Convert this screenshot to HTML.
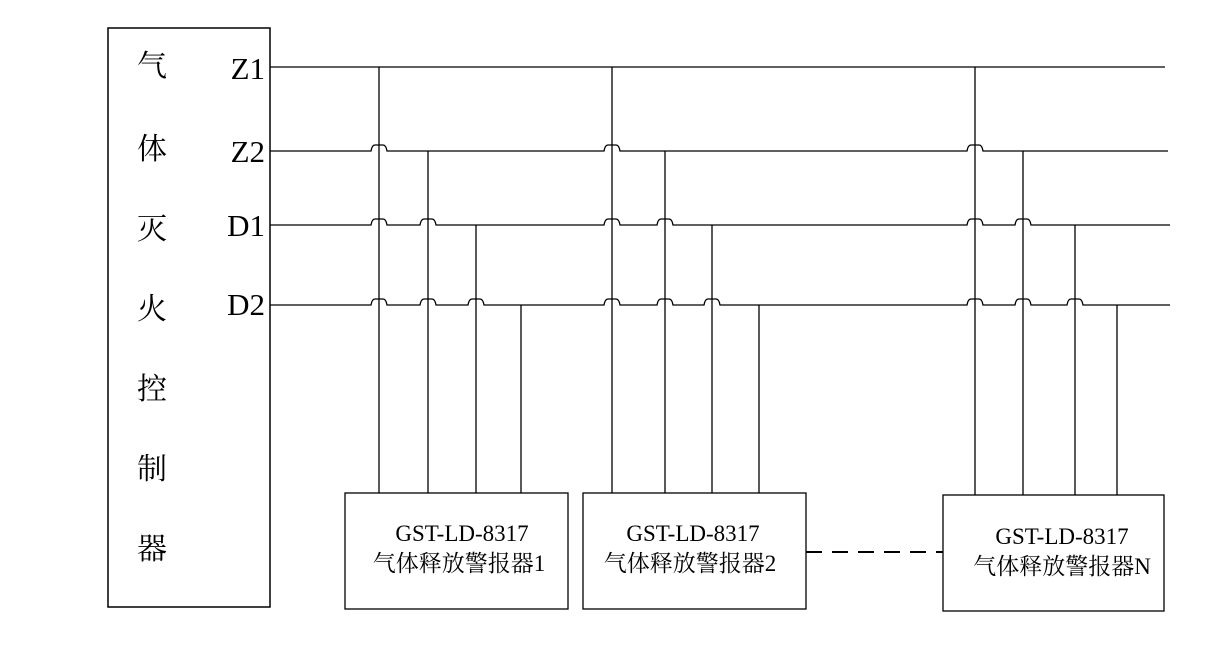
<!DOCTYPE html>
<html><head><meta charset="utf-8"><style>
body{margin:0;background:#fff;width:1218px;height:657px;overflow:hidden}
svg text{font-family:"Liberation Serif","Noto Serif CJK SC","Noto Sans CJK SC",serif;fill:#000}
</style></head><body>
<svg id="s" width="1218" height="657" xmlns="http://www.w3.org/2000/svg">
<rect x="108" y="28" width="162" height="579" fill="none" stroke="#000" stroke-width="1.5"/>
<g font-size="30" text-anchor="middle">
<text x="152" y="76">气</text><text x="152" y="159">体</text><text x="152" y="239">灭</text>
<text x="152" y="319">火</text><text x="152" y="399">控</text><text x="152" y="479">制</text><text x="152" y="559">器</text>
</g>
<g font-size="31" text-anchor="end">
<text x="265" y="79">Z1</text><text x="265" y="162">Z2</text><text x="265" y="236">D1</text><text x="265" y="315">D2</text>
</g>
<g fill="none" stroke="#000" stroke-width="1.3">
<rect x="345" y="493" width="223" height="116"/>
<rect x="583" y="493" width="223" height="116"/>
<rect x="943" y="495" width="221" height="116"/>
<line x1="806" y1="552" x2="943" y2="552" stroke-dasharray="16,10" stroke-width="2"/>
</g>
<g font-size="23" text-anchor="middle">
<text x="462" y="541">GST-LD-8317</text><text x="459" y="571">气体释放警报器1</text>
<text x="693" y="541">GST-LD-8317</text><text x="690" y="571">气体释放警报器2</text>
<text x="1062" y="544">GST-LD-8317</text><text x="1062" y="574">气体释放警报器N</text>
</g>
<g id="w" fill="none" stroke="#000" stroke-width="1.3"></g>
</svg>
<script>
var ys=[67,151,225,305], ends=[1165,1168,1170,1170];
var groups=[[379,428,476,521,493],[612,665,712,759,493],[975,1023,1075,1117,495]];
var g=document.getElementById('w'),out='';
for(var i=0;i<4;i++){
 var y=ys[i],d='M270 '+y;
 var hops=[];
 groups.forEach(function(gr){for(var j=0;j<i;j++)hops.push(gr[j]);});
 hops.sort(function(a,b){return a-b});
 hops.forEach(function(x){d+=' L'+(x-8)+' '+y+' Q'+(x-7)+' '+(y-6)+' '+(x-4)+' '+(y-6)+' L'+(x+4)+' '+(y-6)+' Q'+(x+7)+' '+(y-6)+' '+(x+8)+' '+y;});
 d+=' L'+ends[i]+' '+y;
 out+='<path d="'+d+'"/>';
}
groups.forEach(function(gr){for(var j=0;j<4;j++)out+='<line x1="'+gr[j]+'" y1="'+ys[j]+'" x2="'+gr[j]+'" y2="'+gr[4]+'"/>';});
g.innerHTML=out;
</script>
</body></html>
